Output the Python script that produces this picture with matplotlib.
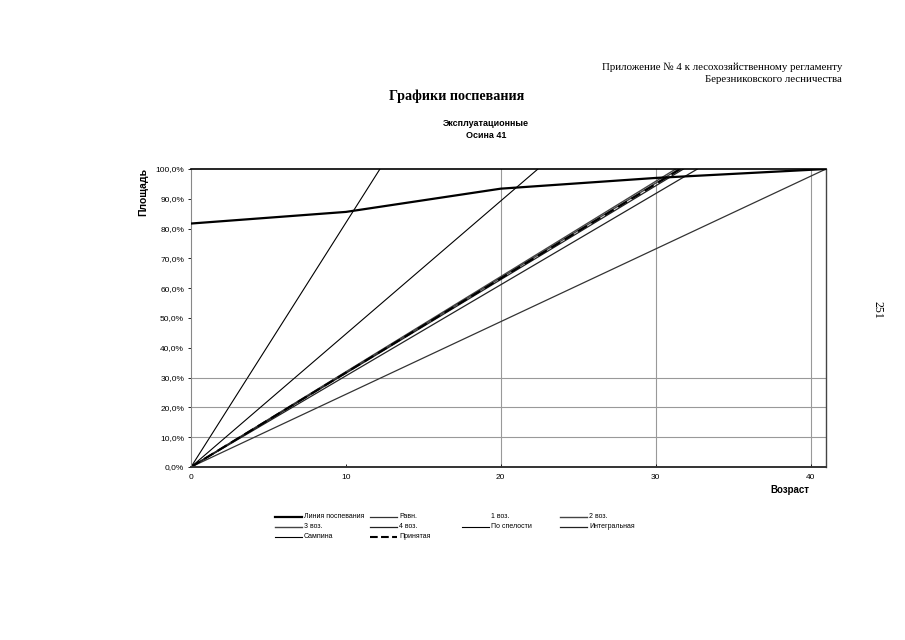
import matplotlib
matplotlib.use("Agg")
import matplotlib.pyplot as plt
from matplotlib.lines import Line2D
from matplotlib.ticker import FuncFormatter

# --- data ---
ages = [0, 10, 20, 30, 41]
ripening = [81.7, 85.6, 93.4, 97.0, 100.0]  # Линия поспевания, %

# age at which each straight line from the origin reaches 100 %
line_names = ["Равн.", "1 воз.", "2 воз.", "3 воз.", "4 воз.",
              "По спелости", "Интегральная", "Сампина", "Принятая"]
line_ends = [41.0, 12.2, 31.3, 31.5, 31.8, 22.4, 32.7, 12.2, 31.6]

x_ticks = [0, 10, 20, 30, 40]
y_ticks = [0, 10, 20, 30, 40, 50, 60, 70, 80, 90, 100]
grid_y = [10, 20, 30]
grid_x = [20, 30, 40]

SERIF = "Liberation Serif"
SANS = "Liberation Sans"

styles = {
    "Равн.": dict(color="#333333", lw=0.9),
    "1 воз.": dict(color="white", lw=0.8),
    "2 воз.": dict(color="#444444", lw=1.0),
    "3 воз.": dict(color="#444444", lw=1.0),
    "4 воз.": dict(color="#222222", lw=0.9),
    "По спелости": dict(color="black", lw=0.8),
    "Интегральная": dict(color="#222222", lw=0.9),
    "Сампина": dict(color="black", lw=0.8),
    "Принятая": dict(color="black", lw=1.5, ls=(0, (5, 2.5))),
}

fig = plt.figure(figsize=(9.05, 6.4), dpi=100)
ax = fig.add_axes([191 / 905, 1 - 467 / 640, 635 / 905, 298 / 640])

for g in grid_y:
    ax.axhline(g, color="#999999", lw=0.8, zorder=0)
for g in grid_x:
    ax.axvline(g, color="#999999", lw=0.8, zorder=0)

handles = {}
for name, end in zip(line_names, line_ends):
    zo = 0.5 if name == "1 воз." else 2
    (h,) = ax.plot([0, end], [0, 100], zorder=zo, **styles[name])
    handles[name] = h

(h,) = ax.plot(ages, ripening, color="black", lw=1.6, zorder=3)
handles["Линия поспевания"] = h

ax.set_xlim(0, 41)
ax.set_ylim(0, 100)
ax.set_xticks(x_ticks)
ax.set_yticks(y_ticks)
ax.yaxis.set_major_formatter(FuncFormatter(lambda v, p: f"{v:.1f}%".replace(".", ",")))
ax.tick_params(axis="both", labelsize=6, length=2, width=0.6, pad=3)
ax.tick_params(axis="x", direction="in", pad=5)
for lab in ax.get_xticklabels() + ax.get_yticklabels():
    lab.set_fontfamily(SANS)

ax.spines["left"].set_color("#888888")
ax.spines["left"].set_linewidth(0.8)
ax.spines["top"].set_color("black")
ax.spines["top"].set_linewidth(1.2)
ax.spines["right"].set_color("#444444")
ax.spines["right"].set_linewidth(1.0)
ax.spines["bottom"].set_color("#333333")
ax.spines["bottom"].set_linewidth(1.4)

# page texts
fig.text(842 / 905, 1 - 67 / 640, "Приложение № 4 к лесохозяйственному регламенту",
         ha="right", va="center", fontsize=7.8, family=SERIF)
fig.text(842 / 905, 1 - 80 / 640, "Березниковского лесничества",
         ha="right", va="center", fontsize=7.8, family=SERIF)
fig.text(457 / 905, 1 - 96 / 640, "Графики поспевания",
         ha="center", va="center", fontsize=10.2, family=SERIF, weight="bold")
fig.text(486 / 905, 1 - 124 / 640, "Эксплуатационные",
         ha="center", va="center", fontsize=6.5, family=SANS, weight="bold")
fig.text(486 / 905, 1 - 136 / 640, "Осина 41",
         ha="center", va="center", fontsize=6.5, family=SANS, weight="bold")
fig.text(143 / 905, 1 - 192 / 640, "Площадь", rotation=90,
         ha="center", va="center", fontsize=7.5, family=SANS, weight="bold")
fig.text(790 / 905, 1 - 490 / 640, "Возраст",
         ha="center", va="center", fontsize=7, family=SANS, weight="bold")
fig.text(877 / 905, 1 - 310 / 640, "251", rotation=270,
         ha="center", va="center", fontsize=8.5, family=SERIF)

# legend, row-wise like the original
legend_order = ["Линия поспевания", "Равн.", "1 воз.", "2 воз.",
                "3 воз.", "4 воз.", "По спелости", "Интегральная",
                "Сампина", "Принятая"]
col_x = [275, 370, 462, 560]
row_y = [517, 527, 537]
for i, name in enumerate(legend_order):
    x0 = col_x[i % 4]
    y0 = row_y[i // 4]
    src = handles[name]
    fig.add_artist(Line2D([x0 / 905, (x0 + 27) / 905], [1 - y0 / 640] * 2,
                          transform=fig.transFigure, color=src.get_color(),
                          lw=src.get_linewidth(), ls=src.get_linestyle()))
    fig.text((x0 + 29) / 905, 1 - y0 / 640, name, ha="left", va="center",
             fontsize=5, family=SANS)

fig.savefig("out.png", dpi=100, facecolor="white")
